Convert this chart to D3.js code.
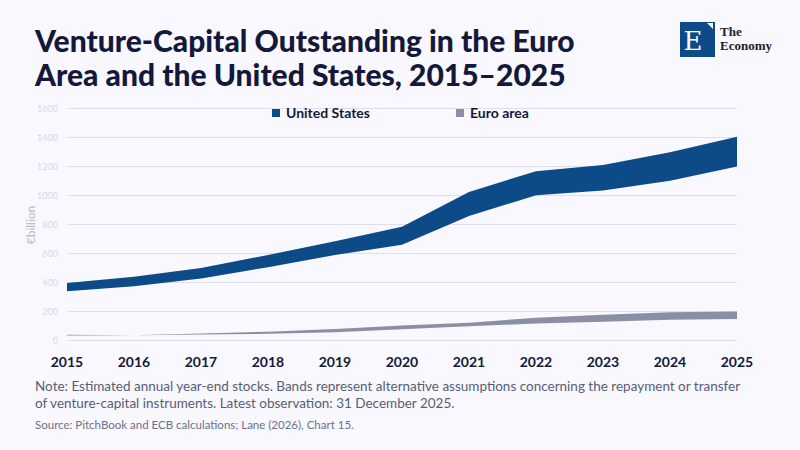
<!DOCTYPE html>
<html>
<head>
<meta charset="utf-8">
<script src="https://cdn.jsdelivr.net/npm/d3@7"></script>
<style>
  body { margin: 0; background: #f8f8fe; }
  svg { display: block; }
</style>
</head>
<body>
<div id="vis"></div>
<script>
const years = [2015, 2016, 2017, 2018, 2019, 2020, 2021, 2022, 2023, 2024, 2025];
const usHigh = [396, 440, 500, 590, 684, 785, 1025, 1168, 1210, 1298, 1405];
const usLow = [340, 375, 428, 505, 590, 660, 858, 1002, 1035, 1102, 1200];
const euHigh = [39, 37, 49, 61, 79, 104, 123, 157, 178, 194, 200];
const euLow = [35, 37, 41, 46, 57, 78, 98, 117, 129, 143, 149];
const yTicks = [0, 200, 400, 600, 800, 1000, 1200, 1400, 1600];
const legendItems = [
  { label: "United States", color: "#0c4a88" },
  { label: "Euro area", color: "#8b8fa5" }
];
const titleLines = ["Venture-Capital Outstanding in the Euro", "Area and the United States, 2015\u20132025"];
const noteLines = [
  "Note: Estimated annual year-end stocks. Bands represent alternative assumptions concerning the repayment or transfer",
  "of venture-capital instruments. Latest observation: 31 December 2025."
];
const sourceText = "Source: PitchBook and ECB calculations; Lane (2026), Chart 15.";

const W = 800, H = 450;
const svg = d3.select("#vis").append("svg")
  .attr("width", W)
  .attr("height", H)
  .style("font-family", "Lato, 'Open Sans', sans-serif");

svg.append("rect").attr("width", W).attr("height", H).attr("fill", "#f8f8fe");

// title
svg.selectAll(".title")
  .data(titleLines)
  .join("text")
  .attr("class", "title")
  .attr("x", 35)
  .attr("y", (d, i) => 52 + i * 34)
  .attr("font-size", 30)
  .attr("font-weight", 900)
  .attr("fill", "#14183a")
  .text(d => d);

// logo
const logo = svg.append("g").attr("transform", "translate(680,22)");
logo.append("rect").attr("width", 35).attr("height", 35).attr("fill", "#0c4a88");
logo.append("text")
  .attr("x", 13).attr("y", 28)
  .attr("text-anchor", "middle")
  .attr("font-family", "'DejaVu Serif', 'Liberation Serif', serif")
  .attr("font-size", 26)
  .attr("fill", "#fff")
  .text("E");
logo.append("path").attr("d", "M27,1 L33,1 L33,7 Z").attr("fill", "#fff");
logo.selectAll(".brand")
  .data(["The", "Economy"])
  .join("text")
  .attr("class", "brand")
  .attr("x", 40)
  .attr("y", (d, i) => 14 + i * 14)
  .attr("font-family", "'Liberation Serif', 'DejaVu Serif', serif")
  .attr("font-size", 13)
  .attr("font-weight", 700)
  .attr("fill", "#222")
  .text(d => d);

const x = d3.scalePoint().domain(years).range([67, 737]);
const y = d3.scaleLinear().domain([0, 1600]).range([340.5, 108.5]);

// gridlines + y labels
svg.append("g")
  .selectAll("line")
  .data(yTicks)
  .join("line")
  .attr("x1", 67).attr("x2", 737)
  .attr("y1", d => y(d)).attr("y2", d => y(d))
  .attr("stroke", "#dde0ea")
  .attr("stroke-width", 1);

svg.append("g")
  .selectAll("text")
  .data(yTicks)
  .join("text")
  .attr("x", 58)
  .attr("y", d => y(d) + 3)
  .attr("text-anchor", "end")
  .attr("font-size", 9)
  .attr("fill", "#d3d8e8")
  .text(d => d);

svg.append("text")
  .attr("transform", "translate(35,225) rotate(-90)")
  .attr("text-anchor", "middle")
  .attr("font-size", 12)
  .attr("fill", "#b9bdcd")
  .text("\u20acbillion");

// bands
const band = (hi, lo) => d3.area()
  .x((d, i) => x(years[i]))
  .y0((d, i) => y(lo[i]))
  .y1((d, i) => y(hi[i]))
  .curve(d3.curveLinear)(years);

svg.append("path").attr("d", band(euHigh, euLow)).attr("fill", "#8b8fa5");
svg.append("path").attr("d", band(usHigh, usLow)).attr("fill", "#0c4a88");

// x labels
svg.append("g")
  .selectAll("text")
  .data(years)
  .join("text")
  .attr("x", d => x(d))
  .attr("y", 367)
  .attr("text-anchor", "middle")
  .attr("font-size", 14)
  .attr("font-weight", 700)
  .attr("fill", "#14183a")
  .text(d => d);

// legend
const lg = svg.append("g")
  .selectAll("g")
  .data(legendItems)
  .join("g")
  .attr("transform", (d, i) => `translate(${i ? 456 : 272},109)`);
lg.append("rect").attr("width", 8).attr("height", 8).attr("fill", d => d.color);
lg.append("text")
  .attr("x", 14).attr("y", 9)
  .attr("font-size", 14)
  .attr("font-weight", 700)
  .attr("fill", "#14183a")
  .text(d => d.label);

// footer
svg.selectAll(".note")
  .data(noteLines)
  .join("text")
  .attr("class", "note")
  .attr("x", 35)
  .attr("y", (d, i) => 391 + i * 17)
  .attr("font-size", 13.5)
  .attr("fill", "#585d74")
  .text(d => d);

svg.append("text")
  .attr("x", 35).attr("y", 429)
  .attr("font-size", 11.5)
  .attr("fill", "#6d7188")
  .text(sourceText);
</script>
</body>
</html>
